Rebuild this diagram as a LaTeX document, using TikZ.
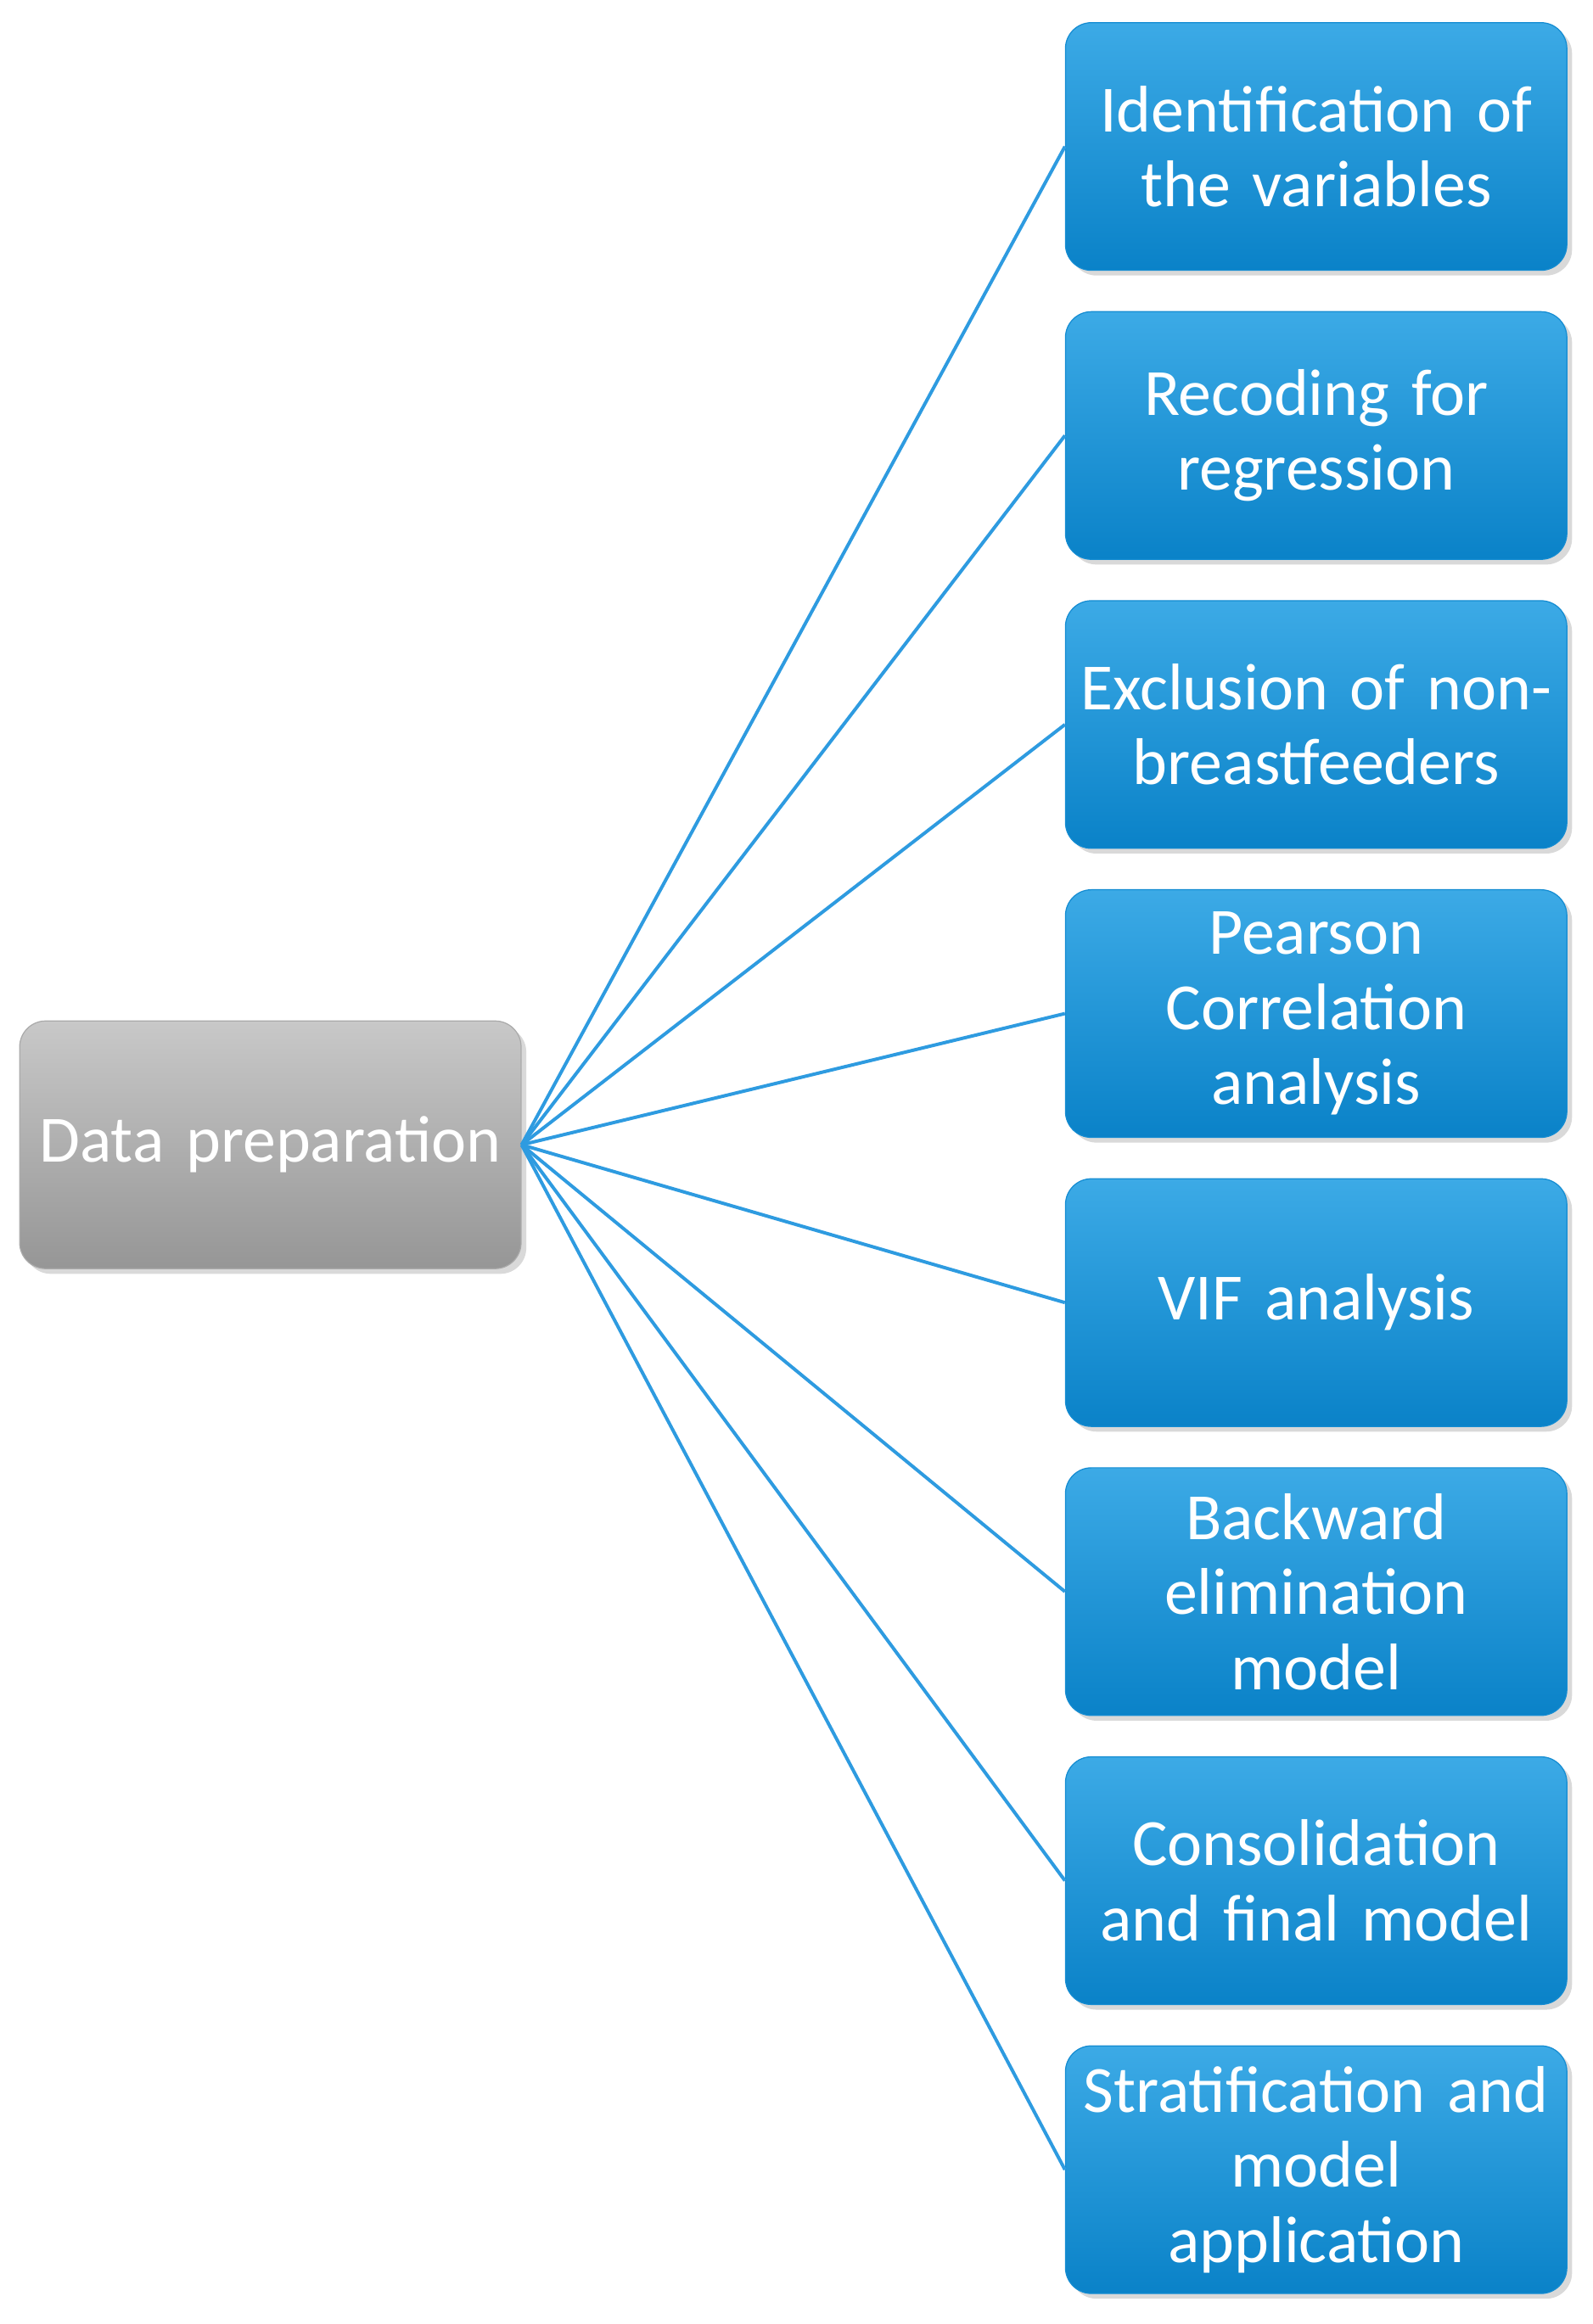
\documentclass[tikz,border=0pt]{standalone}
\usepackage{fontspec}
\setmainfont{Carlito}
\usetikzlibrary{shadows}
\definecolor{lineblue}{HTML}{2E9BE0}
\definecolor{btop}{HTML}{3CAAE6}
\definecolor{bbot}{HTML}{0A82C8}
\definecolor{bdraw}{HTML}{148CD2}
\definecolor{gtop}{HTML}{C8C8C8}
\definecolor{gbot}{HTML}{969696}
\definecolor{gdraw}{HTML}{AAAAAA}
\begin{document}
\begin{tikzpicture}[x=0.02cm,y=-0.02cm,
  box/.style={rounded corners=10pt,minimum width=6.8cm,minimum height=3.36cm,
    text width=6.7cm,align=center,text=white,font=\fontsize{25.5}{29}\selectfont,
    anchor=north west,inner sep=0pt,drop shadow={opacity=0.3,shadow xshift=2pt,shadow yshift=-2pt}},
  bluebox/.style={box,top color=btop,bottom color=bbot,draw=bdraw},
  graybox/.style={box,top color=gtop,bottom color=gbot,draw=gdraw},
  conn/.style={draw=lineblue,line width=1.3pt}]
\useasboundingbox (0,0) rectangle (1080,1576);
\node[graybox] (dp) at (13,692) {Data preparation};
\foreach \i/\t in {0/{Identification of\\the variables},1/{Recoding for\\regression},2/{Exclusion of non-\\breastfeeders},3/{Pearson\\Correlation\\analysis},4/{VIF analysis},5/{Backward\\elimination\\model},6/{Consolidation\\and final model},7/{Stratification and\\model\\application}}{
  \node[bluebox] (b\i) at (722,{15+196*\i}) {\t};
  \draw[conn] (dp.east) -- (b\i.west);
}
\end{tikzpicture}
\end{document}
